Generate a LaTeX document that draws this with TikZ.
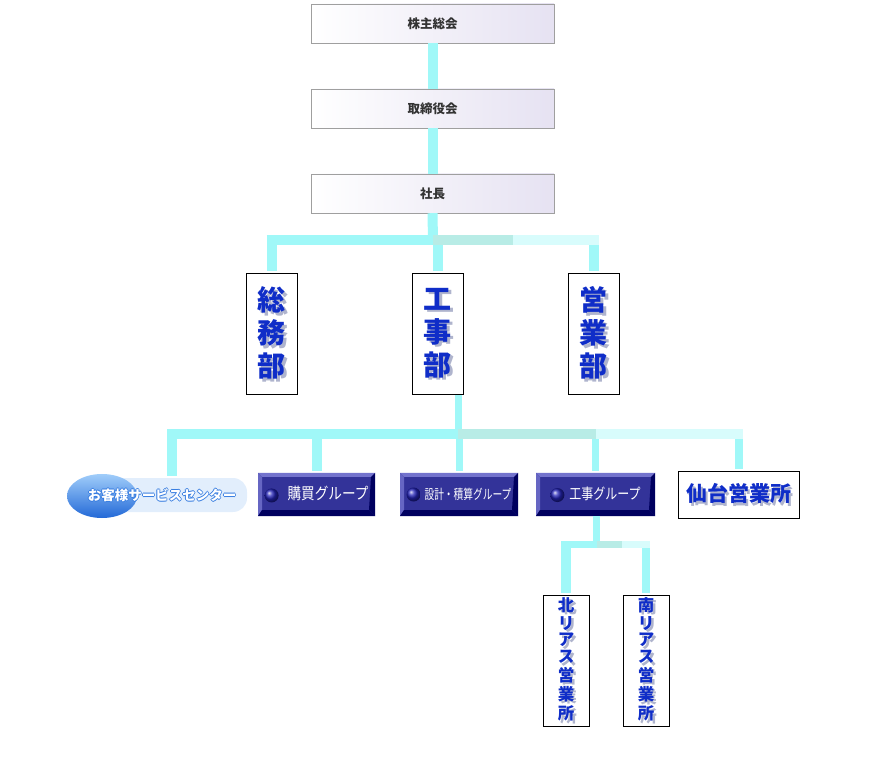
\documentclass[tikz,border=0pt]{standalone}
\usepackage{fontspec}
\newfontfamily\jp{Noto Sans CJK JP}
\usepackage{tikz}
\usetikzlibrary{shapes.geometric}

\definecolor{barcyan}{RGB}{160,248,248}
\definecolor{barteal}{RGB}{184,236,230}
\definecolor{barpale}{RGB}{216,252,252}
\definecolor{deptblue}{RGB}{15,45,200}
\definecolor{shadowgray}{RGB}{175,180,205}
\definecolor{btnface}{RGB}{51,51,153}
\definecolor{btnlight}{RGB}{115,115,205}
\definecolor{btndark}{RGB}{0,0,95}
\definecolor{csblue}{RGB}{55,125,225}
\definecolor{csglow}{RGB}{226,238,252}
\definecolor{cstop}{RGB}{160,205,250}
\definecolor{csbottom}{RGB}{35,105,215}
\definecolor{topmid}{RGB}{236,242,238}
\definecolor{topright}{RGB}{230,226,242}

% shadowed glyph for the boxed names
\newcommand\sh[1]{\rlap{\color{shadowgray}\hspace{2.5pt}\raisebox{-2.5pt}{#1}}#1}
% white text with a blue rim
\newcommand\outl[1]{\rlap{\color{csblue}\hspace{-.9pt}#1}\rlap{\color{csblue}\hspace{.9pt}#1}%
  \rlap{\color{csblue}\raisebox{.9pt}{#1}}\rlap{\color{csblue}\raisebox{-.9pt}{#1}}{\color{white}#1}}
% ball in the buttons
\newcommand\bul{\tikz[baseline=-4.5pt]\shade[ball color=btnface!70!blue] (0,0) circle[radius=7pt];}

\tikzset{
  topbox/.style={draw=gray!75, left color=white, middle color=topmid,
    right color=topright, minimum width=243, minimum height=39, inner sep=0pt,
    text=black!80, font=\jp\bfseries\fontsize{12.5}{14}\selectfont},
  deptbox/.style={draw=black, line width=1pt, minimum width=51, minimum height=121, inner sep=0pt,
    align=center, text=deptblue, font=\jp\bfseries\fontsize{28}{33}\selectfont},
  officebox/.style={draw=black, line width=1pt, minimum width=46, minimum height=131, inner sep=0pt,
    align=center, text=deptblue, font=\jp\bfseries\fontsize{16.5}{16.8}\selectfont},
  btn/.style={fill=btnface, minimum width=117, minimum height=43, inner sep=0pt, text=white,
    font=\jp\addfontfeatures{FakeStretch=0.85}\fontsize{16}{18}\selectfont,
    path picture={
      \fill[btnlight] (path picture bounding box.north west) -- (path picture bounding box.north east)
        -- ([shift={(-4,4)}]path picture bounding box.north east) -- ([shift={(4,4)}]path picture bounding box.north west) -- cycle;
      \fill[btnlight!80!btnface] (path picture bounding box.north west) -- ([shift={(4,4)}]path picture bounding box.north west)
        -- ([shift={(4,-6)}]path picture bounding box.south west) -- (path picture bounding box.south west) -- cycle;
      \fill[btndark] (path picture bounding box.south west) -- (path picture bounding box.south east)
        -- ([shift={(-6,-6)}]path picture bounding box.south east) -- ([shift={(4,-6)}]path picture bounding box.south west) -- cycle;
      \fill[btndark] (path picture bounding box.north east) -- (path picture bounding box.south east)
        -- ([shift={(-6,-6)}]path picture bounding box.south east) -- ([shift={(-4,4)}]path picture bounding box.north east) -- cycle;
    }},
  bar/.style={draw=barcyan, line width=10pt},
  drop/.style={bar, shorten >=2pt},
}

\begin{document}
\begin{tikzpicture}[x=1pt,y=-1pt]
  \useasboundingbox (0,0) rectangle (879,767);

  % top of the tree
  \node[topbox] (agm)   at (432.5,23.5)  {株主総会};
  \node[topbox] (board) at (432.5,108.5) {取締役会};
  \node[topbox] (pres)  at (432.5,193.5) {社長};

  % departments
  \node[deptbox] (somu)  at (271.5,334.5) {\sh{総}\\\sh{務}\\\sh{部}};
  \node[deptbox] (koji)  at (437.5,334.5) {\sh{工}\\\sh{事}\\\sh{部}};
  \node[deptbox] (eigyo) at (593.5,334.5) {\sh{営}\\\sh{業}\\\sh{部}};

  % groups
  \node[fill=csglow, rounded corners=14pt, minimum width=150, minimum height=34] (csbg) at (172,495) {};
  \node[ellipse, top color=cstop, bottom color=csbottom,
        minimum width=70, minimum height=44, inner sep=0pt] (cs) at (102,496) {};
  \node[text=white, font=\jp\bfseries\fontsize{13.5}{15}\selectfont, inner sep=0pt] (cstext) at (162,495)
    {\outl{お客様サービスセンター}};
  \node[btn] (kobai)  at (316.5,494.5) {\bul\hspace{9pt}購買グループ};
  \node[btn, minimum width=118, font=\jp\addfontfeatures{FakeStretch=0.72}\fontsize{13.5}{15}\selectfont] (sekkei)
    at (459,494.5) {\bul\hspace{4pt}設計・積算グループ};
  \node[btn, minimum width=119, font=\jp\addfontfeatures{FakeStretch=0.8}\fontsize{15}{17}\selectfont] (kojig)
    at (595.5,494.5) {\bul\hspace{5pt}工事グループ};
  \node[draw=black, line width=1pt, minimum width=121, minimum height=46, inner sep=0pt, text=deptblue,
        font=\jp\bfseries\fontsize{21}{24}\selectfont] (sendai) at (738.5,495) {\sh{仙台営業所}};

  % offices
  \node[officebox] (kita)   at (566,660.5) {\sh{北}\\\sh{リ}\\\sh{ア}\\\sh{ス}\\\sh{営}\\\sh{業}\\\sh{所}};
  \node[officebox] (minami) at (646,660.5) {\sh{南}\\\sh{リ}\\\sh{ア}\\\sh{ス}\\\sh{営}\\\sh{業}\\\sh{所}};

  % joints
  \coordinate (j1) at (433,240.5);
  \coordinate (m1) at (513,240.5);
  \coordinate (j2) at (458,434.5);
  \coordinate (m2) at (596,434.5);
  \coordinate (j3) at (596.5,544.5);
  \coordinate (m3) at (622,544.5);

  % connectors
  \draw[bar] (agm) -- (board);
  \draw[bar] (board) -- (pres);
  \draw[bar] (pres.south) -- (j1);
  \draw[drop] (j1 -| somu) -- (somu.north);
  \draw[drop] (j1 -| koji) -- (koji.north);
  \draw[drop] (j1 -| eigyo) -- (eigyo.north);
  \draw[bar] ([xshift=-5pt]j1 -| somu) -- (j1);
  \draw[bar, draw=barteal] (j1) -- (m1);
  \draw[bar, draw=barpale] (m1) -- ([xshift=5pt]m1 -| eigyo);

  \draw[bar, line width=7pt] (koji.south -| j2) -- (j2);
  \draw[drop] (j2 -| csbg) -- (csbg.north);
  \draw[drop] (j2 -| kobai) -- (kobai.north);
  \draw[drop, line width=7pt] (j2 -| sekkei) -- (sekkei.north);
  \draw[drop, line width=7pt] (j2 -| kojig) -- (kojig.north);
  \draw[drop, line width=8pt] (j2 -| sendai) -- (sendai.north);
  \draw[bar] ([xshift=-5pt]j2 -| csbg) -- (j2);
  \draw[bar, draw=barteal] (j2) -- (m2);
  \draw[bar, draw=barpale] (m2) -- ([xshift=4pt]m2 -| sendai);

  \draw[bar, line width=7pt] (kojig.south -| j3) -- (j3);
  \draw[drop] (j3 -| kita) -- (kita.north);
  \draw[drop, line width=8pt] (j3 -| minami) -- (minami.north);
  \draw[bar, line width=7pt] ([xshift=-5pt]j3 -| kita) -- (j3);
  \draw[bar, line width=7pt, draw=barteal] (j3) -- (m3);
  \draw[bar, line width=7pt, draw=barpale] (m3) -- ([xshift=4pt]m3 -| minami);
\end{tikzpicture}
\end{document}
